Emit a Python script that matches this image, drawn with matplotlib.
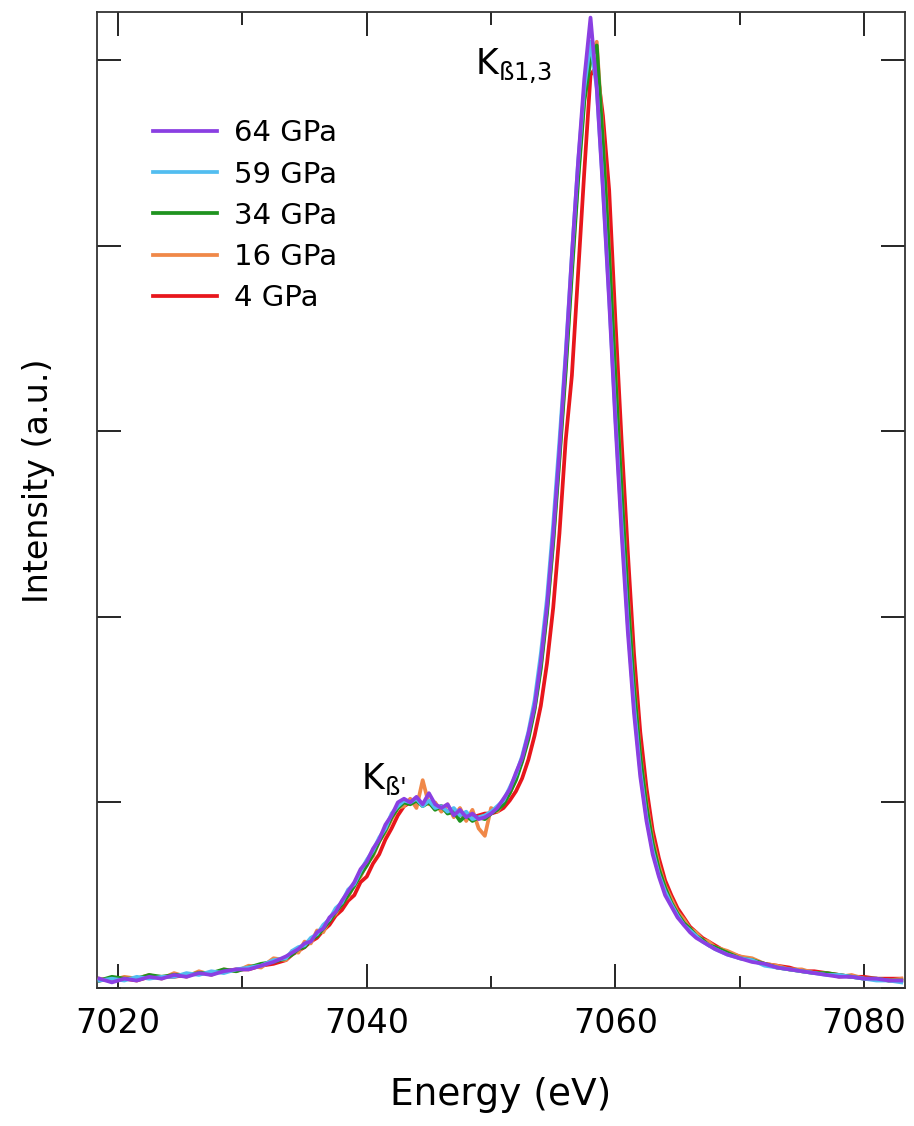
import matplotlib
matplotlib.use("Agg")
import matplotlib.pyplot as plt
from matplotlib.ticker import MultipleLocator

plt.rcParams['font.family'] = ['DejaVu Sans']
plt.rcParams['mathtext.fontset'] = 'dejavusans'

# energy grid (eV): 1 eV in the tails, 0.5 eV across the features
energy = [7018.5, 7019.5, 7020.5, 7021.5, 7022.5, 7023.5, 7024.5, 7025.5,
          7026.5, 7027.5, 7028.5, 7029.5, 7030.5, 7031.5, 7032.5, 7033.5,
          7034.0, 7034.5, 7035.0, 7035.5, 7036.0, 7036.5, 7037.0, 7037.5,
          7038.0, 7038.5, 7039.0, 7039.5, 7040.0, 7040.5, 7041.0, 7041.5,
          7042.0, 7042.5, 7043.0, 7043.5, 7044.0, 7044.5, 7045.0, 7045.5,
          7046.0, 7046.5, 7047.0, 7047.5, 7048.0, 7048.5, 7049.0, 7049.5,
          7050.0, 7050.5, 7051.0, 7051.5, 7052.0, 7052.5, 7053.0, 7053.5,
          7054.0, 7054.5, 7055.0, 7055.5, 7056.0, 7056.5, 7057.0, 7057.5,
          7058.0, 7058.5, 7059.0, 7059.5, 7060.0, 7060.5, 7061.0, 7061.5,
          7062.0, 7062.5, 7063.0, 7063.5, 7064.0, 7064.5, 7065.0, 7065.5,
          7066.0, 7066.5, 7067.0, 7067.5, 7068.0,
          7069, 7070, 7071, 7072, 7073, 7074, 7075, 7076, 7077, 7078,
          7079, 7080, 7081, 7082, 7083]

gpa64 = [0.05, 0.03, 0.05, 0.04, 0.06, 0.05, 0.07, 0.06, 0.08, 0.07, 0.09, 0.10, 0.10, 0.12, 0.14, 0.17,
         0.19, 0.21, 0.24, 0.25, 0.30, 0.32, 0.38, 0.41, 0.47, 0.52, 0.57, 0.64, 0.68, 0.75, 0.80, 0.88,
         0.93, 1.00, 1.02, 1.00, 1.03, 0.99, 1.05, 0.99, 0.97, 0.99, 0.93, 0.96, 0.92, 0.94, 0.91, 0.92,
         0.94, 0.97, 1.02, 1.07, 1.16, 1.24, 1.37, 1.52, 1.76, 2.06, 2.45, 2.90, 3.40, 3.95, 4.45, 4.90,
         5.23, 4.85, 4.30, 3.70, 3.05, 2.45, 1.92, 1.48, 1.14, 0.90, 0.72, 0.60, 0.50, 0.44, 0.38, 0.34,
         0.30, 0.27, 0.25, 0.23, 0.21,
         0.18, 0.16, 0.14, 0.13, 0.11, 0.10, 0.09, 0.08, 0.07, 0.06, 0.06, 0.05, 0.05, 0.04, 0.04]

gpa59 = [0.04, 0.05, 0.04, 0.06, 0.05, 0.06, 0.06, 0.08, 0.07, 0.09, 0.08, 0.10, 0.11, 0.12, 0.15, 0.16,
         0.20, 0.22, 0.23, 0.27, 0.29, 0.34, 0.37, 0.43, 0.46, 0.53, 0.56, 0.63, 0.69, 0.74, 0.81, 0.86,
         0.94, 0.98, 1.01, 1.00, 1.02, 0.98, 1.01, 0.97, 0.98, 0.95, 0.97, 0.93, 0.95, 0.91, 0.92, 0.93,
         0.95, 0.98, 1.01, 1.08, 1.15, 1.25, 1.38, 1.55, 1.80, 2.10, 2.50, 2.95, 3.42, 3.95, 4.45, 4.85,
         5.10, 4.85, 4.32, 3.72, 3.08, 2.50, 1.96, 1.52, 1.17, 0.92, 0.74, 0.61, 0.52, 0.45, 0.39, 0.34,
         0.31, 0.28, 0.25, 0.23, 0.21,
         0.18, 0.16, 0.15, 0.12, 0.11, 0.10, 0.09, 0.08, 0.07, 0.07, 0.06, 0.05, 0.04, 0.04, 0.03]

gpa34 = [0.04, 0.06, 0.05, 0.05, 0.07, 0.06, 0.07, 0.07, 0.08, 0.08, 0.10, 0.09, 0.11, 0.13, 0.14, 0.16,
         0.18, 0.21, 0.22, 0.26, 0.28, 0.32, 0.36, 0.41, 0.45, 0.50, 0.55, 0.61, 0.66, 0.72, 0.79, 0.85,
         0.92, 0.97, 1.00, 0.99, 1.01, 0.98, 1.00, 0.96, 0.98, 0.94, 0.95, 0.90, 0.93, 0.90, 0.92, 0.91,
         0.94, 0.96, 0.99, 1.05, 1.12, 1.22, 1.34, 1.50, 1.72, 2.02, 2.40, 2.85, 3.32, 3.85, 4.35, 4.78,
         5.00, 5.08, 4.55, 3.95, 3.30, 2.68, 2.10, 1.62, 1.25, 0.98, 0.78, 0.64, 0.54, 0.46, 0.40, 0.35,
         0.32, 0.28, 0.26, 0.23, 0.22,
         0.19, 0.16, 0.15, 0.13, 0.11, 0.10, 0.09, 0.08, 0.08, 0.07, 0.06, 0.05, 0.05, 0.04, 0.04]

gpa16 = [0.05, 0.04, 0.06, 0.05, 0.07, 0.05, 0.08, 0.06, 0.09, 0.07, 0.10, 0.09, 0.12, 0.11, 0.16, 0.15,
         0.20, 0.19, 0.25, 0.24, 0.31, 0.30, 0.37, 0.40, 0.46, 0.49, 0.56, 0.60, 0.67, 0.71, 0.79, 0.84,
         0.91, 0.97, 0.98, 1.02, 0.97, 1.12, 0.99, 1.00, 0.95, 0.99, 0.92, 0.97, 0.90, 0.96, 0.86, 0.82,
         0.97, 0.95, 1.00, 1.05, 1.13, 1.23, 1.36, 1.51, 1.74, 2.04, 2.42, 2.87, 3.35, 3.88, 4.38, 4.80,
         5.02, 5.10, 4.58, 3.98, 3.32, 2.70, 2.12, 1.64, 1.26, 1.00, 0.80, 0.66, 0.55, 0.48, 0.41, 0.37,
         0.32, 0.30, 0.26, 0.25, 0.22,
         0.20, 0.17, 0.16, 0.13, 0.12, 0.10, 0.10, 0.08, 0.08, 0.06, 0.07, 0.05, 0.05, 0.04, 0.05]

gpa4 = [0.04, 0.05, 0.05, 0.04, 0.06, 0.06, 0.06, 0.07, 0.08, 0.08, 0.09, 0.10, 0.10, 0.12, 0.13, 0.15,
        0.18, 0.20, 0.22, 0.25, 0.27, 0.31, 0.34, 0.39, 0.42, 0.47, 0.50, 0.57, 0.60, 0.67, 0.72, 0.80,
        0.86, 0.93, 0.98, 1.00, 1.01, 0.99, 1.00, 0.97, 0.98, 0.95, 0.95, 0.93, 0.93, 0.92, 0.93, 0.94,
        0.94, 0.95, 0.97, 1.01, 1.06, 1.13, 1.23, 1.36, 1.52, 1.75, 2.05, 2.45, 2.95, 3.30, 3.85, 4.40,
        4.92, 4.97, 4.70, 4.30, 3.60, 2.95, 2.35, 1.80, 1.38, 1.08, 0.85, 0.70, 0.58, 0.50, 0.43, 0.38,
        0.33, 0.30, 0.27, 0.25, 0.23,
        0.19, 0.17, 0.15, 0.13, 0.12, 0.11, 0.09, 0.09, 0.08, 0.07, 0.06, 0.06, 0.05, 0.05, 0.05]

labels = ["64 GPa", "59 GPa", "34 GPa", "16 GPa", "4 GPa"]
series = [gpa64, gpa59, gpa34, gpa16, gpa4]
colors = ["#8a3fe2", "#52bdf0", "#1f931f", "#f08848", "#e8161c"]

fig = plt.figure(figsize=(9.14, 11.26), dpi=100)
ax = fig.add_axes([0.1061, 0.1226, 0.8841, 0.8667])

lines = []
# draw 4 GPa first so 64 GPa ends up on top
for i in range(len(series) - 1, -1, -1):
    ln, = ax.plot(energy, series[i], color=colors[i], lw=2.7, label=labels[i], zorder=2 + (5 - i))
    lines.append(ln)
lines = lines[::-1]

ax.set_xlim(7018.3, 7083.3)
ax.set_ylim(0, 5.26)
ax.xaxis.set_major_locator(MultipleLocator(20))
ax.xaxis.set_minor_locator(MultipleLocator(10))
ax.yaxis.set_major_locator(MultipleLocator(1))
ax.tick_params(which='both', direction='in', top=True, right=True, width=1.2)
ax.tick_params(which='major', length=17)
ax.tick_params(which='minor', length=9)
ax.tick_params(axis='x', labelsize=24, pad=14)
ax.tick_params(axis='y', labelleft=False)
for s in ax.spines.values():
    s.set_linewidth(1.3)
    s.set_color('#333333')

ax.set_xlabel("Energy (eV)", fontsize=27, labelpad=26)
ax.set_ylabel("Intensity (a.u.)", fontsize=24)
ax.yaxis.set_label_coords(-0.052, 0.52)

ax.text(7048.7, 4.92, r"K$_{\text{ß1,3}}$", fontsize=25, ha='left', va='baseline')
ax.text(7039.5, 1.07, r"K$_{\text{ß'}}$", fontsize=25, ha='left', va='baseline')

ax.legend(handles=lines, loc='upper left', bbox_to_anchor=(0.069, 0.890), frameon=False,
          fontsize=21, handlelength=2.2, handletextpad=0.6, labelspacing=0.45,
          borderpad=0, borderaxespad=0)

fig.savefig("out.png", dpi=100)
